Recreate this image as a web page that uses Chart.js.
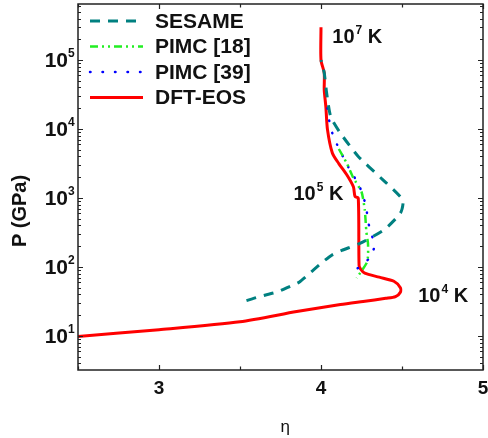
<!DOCTYPE html>
<html>
<head>
<meta charset="utf-8">
<script src="https://cdn.jsdelivr.net/npm/chart.js@4.4.1/dist/chart.umd.min.js"></script>
<style>
  html, body { margin: 0; padding: 0; background: #fff; }
  #wrap { width: 488px; height: 438px; }
</style>
</head>
<body>
<div id="wrap"><canvas id="eosChart" width="488" height="438"></canvas></div>
<script>
// datos (eta, P en GPa)
const seriesNames = ['SESAME', 'PIMC [18]', 'PIMC [39]', 'DFT-EOS'];

const etaSesame = [3.54, 3.60, 3.67, 3.735, 3.81, 3.865, 3.94, 3.995, 4.066, 4.128, 4.24, 4.39, 4.49, 4.505, 4.37, 4.23, 4.12, 4.06, 4.035, 4.02, 4.00];
const pSesame   = [32.5, 35.9, 39.8, 43.7, 52.5, 60, 85, 110, 148, 174, 219, 347, 603, 933, 1950, 4000, 8700, 15000, 33000, 65000, 100000];

const etaPimc18 = [4.11, 4.16, 4.20, 4.25, 4.27, 4.28, 4.29, 4.29, 4.28, 4.22];
const pPimc18   = [5130, 3160, 1950, 1230, 676, 324, 219, 141, 112, 69];

const etaPimc39 = [4.04, 4.05, 4.07, 4.10, 4.14, 4.18, 4.23, 4.26, 4.28, 4.29, 4.31, 4.33, 4.30, 4.22];
const pPimc39   = [20000, 13500, 8700, 5900, 3800, 2500, 1620, 1070, 710, 457, 309, 200, 135, 93];

const etaDft = [2.47, 3.0, 3.5, 3.85, 4.12, 4.26, 4.40, 4.46, 4.49, 4.49, 4.45, 4.36, 4.27, 4.245, 4.235, 4.23, 4.21, 4.20, 4.16, 4.11, 4.07, 4.04, 4.03, 4.02, 4.02, 4.00, 4.00];
const pDft   = [9.7, 12.3, 16, 22.5, 28.5, 31.6, 35, 37, 43, 50, 62, 71, 81, 93, 105, 1000, 1050, 1450, 2150, 3150, 4500, 9800, 21000, 37000, 65000, 100000, 300000];

const xTickValues = [3, 4, 5];
const yDecades = [1, 2, 3, 4, 5];

const toPoints = (xs, ys) => xs.map((v, i) => ({ x: v, y: ys[i] }));

const FONT = "'Liberation Sans', Arial, sans-serif";

// marco, marcas hacia dentro, etiquetas 10^n, leyenda y anotaciones
const framePlugin = {
  id: 'framePlugin',
  afterDraw(chart) {
    const { ctx, chartArea: a, scales: { x, y } } = chart;
    ctx.save();
    ctx.strokeStyle = '#222';
    ctx.lineWidth = 1.5;
    ctx.strokeRect(a.left, a.top, a.right - a.left, a.bottom - a.top);

    ctx.lineWidth = 1.2;
    ctx.beginPath();
    for (let v = x.min; v <= x.max + 1e-9; v += 0.5) {
      const px = Math.round(x.getPixelForValue(v)) + 0.5;
      const len = Math.abs(v - Math.round(v)) < 1e-6 ? 5 : 3.5;
      ctx.moveTo(px, a.bottom); ctx.lineTo(px, a.bottom - len);
      ctx.moveTo(px, a.top); ctx.lineTo(px, a.top + len);
    }
    for (let k = 0; k <= 6; k++) {
      for (let m = 1; m <= 9; m++) {
        const v = m * Math.pow(10, k);
        if (v < y.min || v > y.max) continue;
        const py = Math.round(y.getPixelForValue(v)) + 0.5;
        const len = m === 1 ? 5 : 3;
        ctx.moveTo(a.left, py); ctx.lineTo(a.left + len, py);
        ctx.moveTo(a.right, py); ctx.lineTo(a.right - len, py);
      }
    }
    ctx.stroke();

    // etiquetas del eje y
    ctx.fillStyle = '#111';
    yDecades.forEach(k => {
      const py = y.getPixelForValue(Math.pow(10, k));
      ctx.font = 'bold 21px ' + FONT;
      ctx.textAlign = 'right';
      ctx.textBaseline = 'middle';
      ctx.fillText('10', a.left - 10, py + 1);
      ctx.font = 'bold 12px ' + FONT;
      ctx.textAlign = 'left';
      ctx.textBaseline = 'alphabetic';
      ctx.fillText(String(k), a.left - 10, py - 3);
    });

    // titulo del eje y
    ctx.save();
    ctx.translate(20, 211);
    ctx.rotate(-Math.PI / 2);
    ctx.font = 'bold 20px ' + FONT;
    ctx.textAlign = 'center';
    ctx.textBaseline = 'middle';
    ctx.fillText('P (GPa)', 0, 0);
    ctx.restore();

    // anotaciones de temperatura
    const notes = chart.options.plugins.framePlugin.notes;
    notes.forEach(n => {
      const px = x.getPixelForValue(n.x);
      const py = y.getPixelForValue(n.y);
      ctx.textAlign = 'left';
      ctx.textBaseline = 'alphabetic';
      ctx.font = 'bold 20px ' + FONT;
      ctx.fillText('10', px, py);
      let w = ctx.measureText('10').width;
      ctx.font = 'bold 12px ' + FONT;
      ctx.fillText(n.sup, px + w + 1, py - 9);
      w += ctx.measureText(n.sup).width + 1;
      ctx.font = 'bold 20px ' + FONT;
      ctx.fillText(' K', px + w, py);
    });

    // leyenda
    const lg = chart.options.plugins.framePlugin.legend;
    chart.data.datasets.forEach((ds, i) => {
      const cy = lg.top + i * lg.rowGap;
      ctx.save();
      ctx.strokeStyle = ds.borderColor;
      ctx.lineWidth = ds.borderWidth;
      ctx.lineCap = ds.borderCapStyle || 'butt';
      ctx.setLineDash(ds.borderDash || []);
      ctx.beginPath();
      ctx.moveTo(lg.left, cy);
      ctx.lineTo(lg.left + lg.sample, cy);
      ctx.stroke();
      ctx.restore();
      ctx.font = 'bold 21px ' + FONT;
      ctx.textAlign = 'left';
      ctx.textBaseline = 'middle';
      ctx.fillStyle = '#111';
      ctx.fillText(ds.label, lg.left + lg.sample + 12, cy + 1);
    });
    ctx.restore();
  }
};

const ctx = document.getElementById('eosChart').getContext('2d');
const eosChart = new Chart(ctx, {
  type: 'scatter',
  data: {
    datasets: [
      {
        label: seriesNames[0],
        data: toPoints(etaSesame, pSesame),
        borderColor: '#008080',
        borderWidth: 3,
        borderDash: [10, 8],
        showLine: true,
        pointRadius: 0,
        tension: 0.2
      },
      {
        label: seriesNames[1],
        data: toPoints(etaPimc18, pPimc18),
        borderColor: '#22ee22',
        borderWidth: 2.5,
        borderDash: [8, 4, 2, 4, 2, 4],
        showLine: true,
        pointRadius: 0,
        tension: 0.2
      },
      {
        label: seriesNames[2],
        data: toPoints(etaPimc39, pPimc39),
        borderColor: '#0000ff',
        borderWidth: 2.5,
        borderDash: [0.5, 12],
        borderCapStyle: 'round',
        showLine: true,
        pointRadius: 0,
        tension: 0.2
      },
      {
        label: seriesNames[3],
        data: toPoints(etaDft, pDft),
        borderColor: '#ff0000',
        borderWidth: 3,
        showLine: true,
        pointRadius: 0,
        tension: 0.25
      }
    ]
  },
  options: {
    responsive: false,
    animation: false,
    layout: { padding: { top: 4, right: 5, left: 0, bottom: 0 } },
    plugins: {
      legend: { display: false },
      tooltip: { enabled: false },
      framePlugin: {
        legend: { left: 90, top: 21, rowGap: 25.5, sample: 53 },
        notes: [
          { x: 4.07, y: 1.75e5, sup: '7' },
          { x: 3.83, y: 950, sup: '5' },
          { x: 4.60, y: 31.4, sup: '4' }
        ]
      }
    },
    scales: {
      x: {
        type: 'linear',
        min: 2.5,
        max: 5,
        afterFit: s => { s.height = 68; },
        grid: { display: false },
        border: { display: false },
        ticks: {
          stepSize: 0.5,
          color: '#111',
          padding: -1,
          font: { family: FONT, size: 19, weight: 'bold' },
          callback: v => xTickValues.includes(v) ? String(v) : ''
        },
        title: {
          display: true,
          text: '  η',
          color: '#111',
          font: { family: FONT, size: 17 },
          padding: { top: 0, bottom: 0 }
        }
      },
      y: {
        type: 'logarithmic',
        min: 3.2,
        max: 6.5e5,
        afterFit: s => { s.width = 78; },
        grid: { display: false },
        border: { display: false },
        ticks: { display: false }
      }
    }
  },
  plugins: [framePlugin]
});
</script>
</body>
</html>
